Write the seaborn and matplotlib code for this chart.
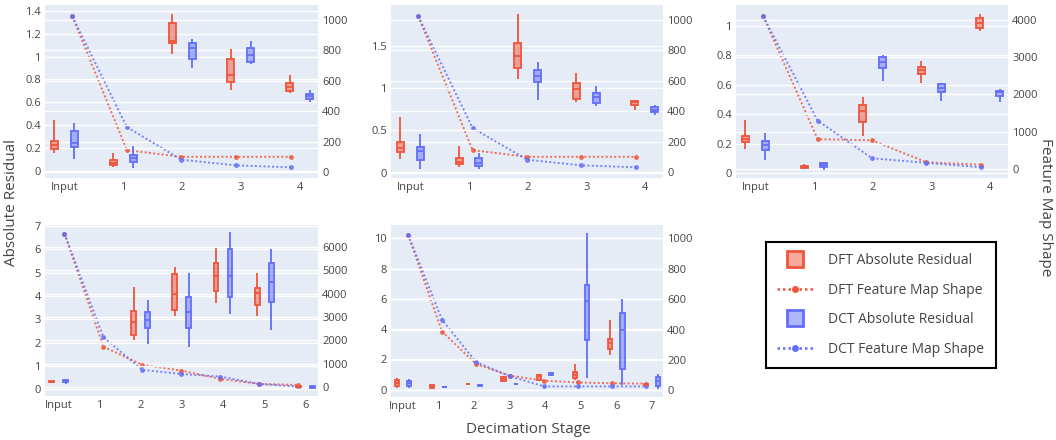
import numpy as np
import pandas as pd
import matplotlib
matplotlib.use("Agg")
import matplotlib.pyplot as plt
from matplotlib.lines import Line2D
from matplotlib.colors import to_rgb
import seaborn as sns

plt.rcParams["font.family"] = ["Open Sans", "DejaVu Sans"]

RED = "#EF553B"
BLUE = "#636EFA"
BG = "#E5ECF6"
TXT = "#444444"

# five-number summaries (min, q1, median, q3, max)
p1_stages = ["Input", "1", "2", "3", "4"]
p1_dft_res = [[0.154, 0.189, 0.232, 0.265, 0.447], [0.039, 0.054, 0.075, 0.093, 0.154],
              [1.018, 1.121, 1.137, 1.29, 1.37], [0.711, 0.779, 0.84, 0.977, 1.068],
              [0.682, 0.697, 0.738, 0.771, 0.84]]
p1_dct_res = [[0.107, 0.211, 0.241, 0.346, 0.424], [0.029, 0.079, 0.118, 0.143, 0.219],
              [0.897, 0.977, 1.076, 1.121, 1.155], [0.931, 0.954, 1.016, 1.071, 1.137],
              [0.606, 0.629, 0.653, 0.674, 0.709]]
p1_dft_shape = [1024, 144, 100, 100, 100]
p1_dct_shape = [1024, 295, 81, 44, 31]

p2_stages = ["Input", "1", "2", "3", "4"]
p2_dft_res = [[0.163, 0.244, 0.293, 0.366, 0.657], [0.069, 0.102, 0.134, 0.171, 0.317],
              [1.11, 1.238, 1.377, 1.531, 1.877], [0.835, 0.87, 0.988, 1.058, 1.173],
              [0.736, 0.803, 0.831, 0.85, 0.862]]
p2_dct_res = [[0.049, 0.15, 0.264, 0.305, 0.455], [0.041, 0.081, 0.122, 0.171, 0.236],
              [0.854, 1.069, 1.146, 1.219, 1.308], [0.783, 0.823, 0.898, 0.945, 1.023],
              [0.685, 0.717, 0.744, 0.776, 0.795]]
p2_dft_shape = [1024, 144, 100, 100, 100]
p2_dct_shape = [1024, 289, 81, 44, 31]

p3_stages = ["Input", "1", "2", "3", "4"]
p3_dft_res = [[0.165, 0.208, 0.231, 0.253, 0.362], [0.027, 0.034, 0.041, 0.05, 0.063],
              [0.253, 0.346, 0.419, 0.464, 0.52], [0.611, 0.674, 0.701, 0.724, 0.765],
              [0.968, 0.984, 1.023, 1.052, 1.081]]
p3_dct_res = [[0.09, 0.158, 0.192, 0.219, 0.271], [0.023, 0.041, 0.057, 0.068, 0.072],
              [0.629, 0.713, 0.758, 0.792, 0.803], [0.493, 0.554, 0.581, 0.604, 0.615],
              [0.486, 0.527, 0.548, 0.561, 0.572]]
p3_dft_shape = [4096, 800, 770, 180, 115]
p3_dct_shape = [4096, 1300, 289, 165, 49]

p4_stages = ["Input", "1", "2", "3", "4", "5", "6"]
p4_dft_res = [[0.28, 0.31, 0.33, 0.35, 0.37], None,
              [2.11, 2.33, 2.87, 3.37, 4.37], [3.16, 3.4, 4.07, 4.94, 5.26],
              [3.71, 4.19, 4.86, 5.4, 6.04], [3.16, 3.59, 4.11, 4.33, 4.97],
              [0.05, 0.08, 0.1, 0.12, 0.15]]
p4_dct_res = [[0.22, 0.32, 0.36, 0.4, 0.43], None,
              [1.94, 2.61, 2.97, 3.3, 3.83], [1.83, 2.64, 3.3, 3.94, 5.0],
              [3.23, 3.97, 4.86, 6.0, 6.73], [2.54, 3.73, 4.61, 5.43, 6.01],
              [0.02, 0.06, 0.1, 0.13, 0.16]]
p4_dft_shape = [6561, 1729, 957, 714, 357, 143, 100]
p4_dct_shape = [6561, 2129, 743, 571, 457, 143, 30]

p5_stages = ["Input", "1", "2", "3", "4", "5", "6", "7"]
p5_dft_res = [[0.11, 0.22, 0.44, 0.66, 0.77], [0.07, 0.13, 0.22, 0.31, 0.37],
              [0.33, 0.35, 0.37, 0.4, 0.42], [0.48, 0.55, 0.7, 0.86, 0.92],
              [0.55, 0.66, 0.88, 0.99, 1.05], [0.66, 0.77, 0.99, 1.14, 1.69],
              [2.31, 2.68, 3.08, 3.34, 4.62], [0.28, 0.31, 0.33, 0.35, 0.38]]
p5_dct_res = [[0.11, 0.26, 0.46, 0.59, 0.7], [0.12, 0.15, 0.18, 0.2, 0.22],
              [0.26, 0.28, 0.31, 0.33, 0.35], [0.33, 0.35, 0.37, 0.4, 0.42],
              [0.93, 0.96, 1.02, 1.1, 1.14], [0.77, 3.3, 5.89, 6.92, 10.37],
              [0.33, 1.36, 3.96, 5.05, 6.0], [0.07, 0.22, 0.55, 0.81, 1.05]]
p5_dft_shape = [1024, 387, 173, 96, 63, 52, 46, 44]
p5_dct_shape = [1024, 464, 186, 92, 26, 26, 26, 26]

panels = [
    dict(stages=p1_stages, dft=p1_dft_res, dct=p1_dct_res, dft_s=p1_dft_shape, dct_s=p1_dct_shape,
         rect=[0.0426, 0.5955, 0.2585, 0.3932], yl=(-0.06, 1.45), yr=(-39, 1098),
         lt=np.arange(0, 1.41, 0.2), rt=np.arange(0, 1001, 200)),
    dict(stages=p2_stages, dft=p2_dft_res, dct=p2_dct_res, dft_s=p2_dft_shape, dct_s=p2_dct_shape,
         rect=[0.3703, 0.5955, 0.2576, 0.3932], yl=(-0.06, 1.98), yr=(-39, 1098),
         lt=[0, 0.5, 1, 1.5], rt=np.arange(0, 1001, 200)),
    dict(stages=p3_stages, dft=p3_dft_res, dct=p3_dct_res, dft_s=p3_dft_shape, dct_s=p3_dct_shape,
         rect=[0.697, 0.5955, 0.2576, 0.3932], yl=(-0.034, 1.143), yr=(-241, 4402),
         lt=np.arange(0, 1.01, 0.2), rt=np.arange(0, 4001, 1000)),
    dict(stages=p4_stages, dft=p4_dft_res, dct=p4_dct_res, dft_s=p4_dft_shape, dct_s=p4_dct_shape,
         rect=[0.0426, 0.1, 0.2585, 0.3886], yl=(-0.29, 7.04), yr=(-370, 6924),
         lt=np.arange(0, 8), rt=np.arange(0, 6001, 1000)),
    dict(stages=p5_stages, dft=p5_dft_res, dct=p5_dct_res, dft_s=p5_dft_shape, dct_s=p5_dct_shape,
         rect=[0.3703, 0.0977, 0.2576, 0.391], yl=(-0.48, 10.88), yr=(-44, 1088),
         lt=np.arange(0, 11, 2), rt=np.arange(0, 1001, 200)),
]

DOT = (0, (1, 1.2))

fig = plt.figure(figsize=(10.56, 4.4), dpi=100)


def fmt(v):
    return f"{round(v, 2):g}"


def draw_boxes(ax, stages, res, method, color):
    rows = [(s, method, v) for s, five in zip(stages, res) if five for v in five]
    df = pd.DataFrame(rows, columns=["stage", "method", "value"])
    sns.boxplot(data=df, x="stage", y="value", hue="method", order=stages,
                hue_order=["DFT", "DCT"], palette={"DFT": RED, "DCT": BLUE},
                dodge=True, width=0.68, gap=0.65, whis=(0, 100), saturation=1,
                linecolor=color, linewidth=1.3, showcaps=False, legend=False, ax=ax)


for p in panels:
    n = len(p["stages"])
    # feature map shape lines (right axis), drawn underneath
    ax2 = fig.add_axes(p["rect"])
    ax2.set_facecolor(BG)
    sns.lineplot(x=np.arange(n), y=p["dft_s"], ax=ax2, color=RED, linestyle=DOT, linewidth=1.4,
                 marker="o", markersize=3.5, markeredgewidth=0, alpha=0.85)
    sns.lineplot(x=np.arange(n), y=p["dct_s"], ax=ax2, color=BLUE, linestyle=DOT, linewidth=1.4,
                 marker="o", markersize=3.5, markeredgewidth=0, alpha=0.85)
    ax2.set_xlim(-0.5, n - 0.5)
    ax2.set_ylim(*p["yr"])
    ax2.set_xticks([])
    ax2.yaxis.tick_right()
    ax2.set_yticks(p["rt"])
    ax2.set_yticklabels([fmt(v) for v in p["rt"]])
    ax2.yaxis.grid(True, color="white", linewidth=1)
    ax2.set_axisbelow(True)

    # absolute residual boxes (left axis)
    ax = fig.add_axes(p["rect"])
    ax.set_facecolor("none")
    draw_boxes(ax, p["stages"], p["dft"], "DFT", RED)
    draw_boxes(ax, p["stages"], p["dct"], "DCT", BLUE)
    for patch in ax.patches:
        r, g, b = to_rgb(patch.get_facecolor())
        patch.set_facecolor((r, g, b, 0.5))
    ax.set_xlim(-0.33, n - 0.69)
    ax.set_ylim(*p["yl"])
    ax.set_xticks(range(n))
    ax.set_xticklabels(p["stages"])
    ax.set_yticks(p["lt"])
    ax.set_yticklabels([fmt(v) for v in p["lt"]])
    ax.yaxis.grid(True, color="white", linewidth=1)
    ax.xaxis.grid(False)
    ax.set_axisbelow(True)
    ax.set_xlabel("")
    ax.set_ylabel("")

    for a in (ax, ax2):
        for s in a.spines.values():
            s.set_visible(False)
        a.tick_params(length=0, labelsize=8, labelcolor=TXT, pad=3)

fig.text(0.011, 0.54, "Absolute Residual", rotation=90, ha="center", va="center",
         fontsize=11, color=TXT)
fig.text(0.99, 0.53, "Feature Map Shape", rotation=270, ha="center", va="center",
         fontsize=11, color=TXT)
fig.text(0.5, 0.023, "Decimation Stage", ha="center", va="center", fontsize=11, color=TXT)

handles = [
    Line2D([], [], marker="s", ls="none", markersize=11, markerfacecolor=(*to_rgb(RED), 0.5),
           markeredgecolor=RED, markeredgewidth=2),
    Line2D([], [], color=RED, ls=DOT, lw=1.8, marker="o", markersize=5, markeredgewidth=0),
    Line2D([], [], marker="s", ls="none", markersize=11, markerfacecolor=(*to_rgb(BLUE), 0.5),
           markeredgecolor=BLUE, markeredgewidth=2),
    Line2D([], [], color=BLUE, ls=DOT, lw=1.8, marker="o", markersize=5, markeredgewidth=0),
]
labels = ["DFT Absolute Residual", "DFT Feature Map Shape",
          "DCT Absolute Residual", "DCT Feature Map Shape"]
leg = fig.legend(handles, labels, loc="center", bbox_to_anchor=(0.834, 0.307), frameon=True,
                 fancybox=False, edgecolor="black", framealpha=1, fontsize=10,
                 handlelength=2.6, handletextpad=1.1, labelspacing=1.05, borderpad=0.8,
                 borderaxespad=0)
leg.get_frame().set_linewidth(1.5)
for t in leg.get_texts():
    t.set_color(TXT)

fig.savefig("out.png", dpi=100)
